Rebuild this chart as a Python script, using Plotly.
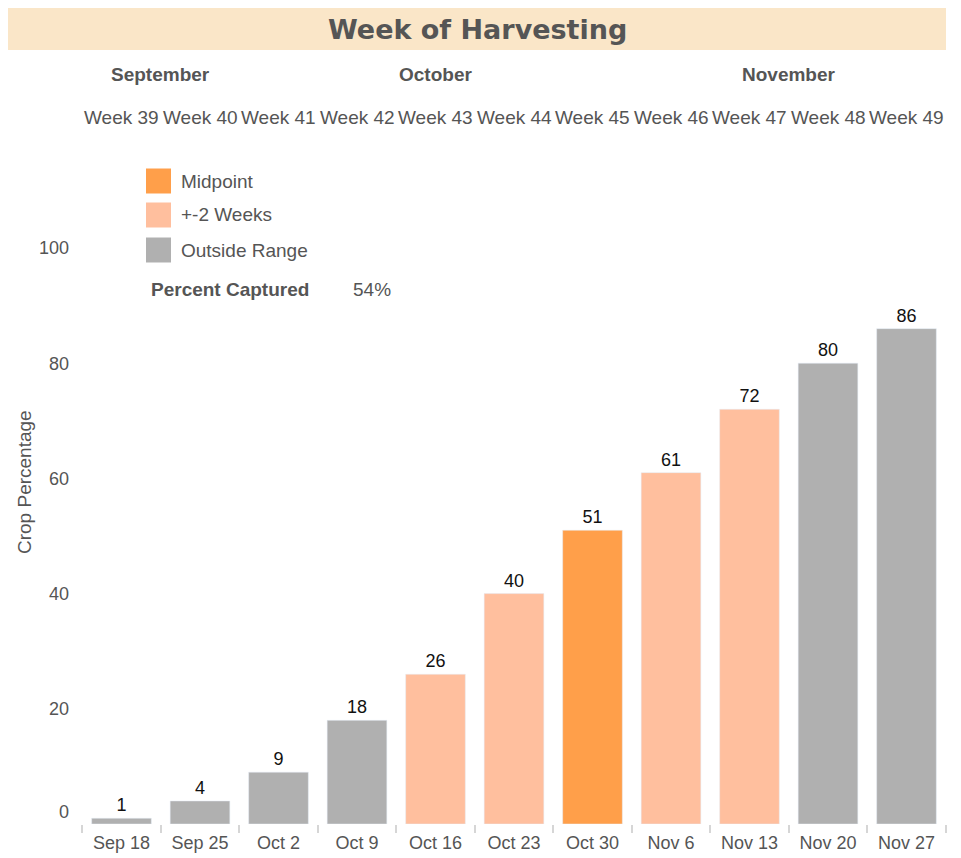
import plotly.graph_objects as go

categories = ["Sep 18", "Sep 25", "Oct 2", "Oct 9", "Oct 16", "Oct 23", "Oct 30", "Nov 6", "Nov 13", "Nov 20", "Nov 27"]
weeks = ["Week 39", "Week 40", "Week 41", "Week 42", "Week 43", "Week 44", "Week 45", "Week 46", "Week 47", "Week 48", "Week 49"]
values = [1, 4, 9, 18, 26, 40, 51, 61, 72, 80, 86]
groups = ["Outside Range", "Outside Range", "Outside Range", "Outside Range", "+-2 Weeks", "+-2 Weeks",
          "Midpoint", "+-2 Weeks", "+-2 Weeks", "Outside Range", "Outside Range"]
group_names = ["Midpoint", "+-2 Weeks", "Outside Range"]
group_colors = {"Midpoint": "#FF9F4A", "+-2 Weeks": "#FFBF9E", "Outside Range": "#B0B0B0"}
months = ["September", "October", "November"]
month_centers = [0.5, 4, 8.5]
percent_captured = "54%"
y_ticks = [20, 40, 60, 80, 100]

FONT = "Liberation Sans, Arial, sans-serif"
GRAY = "#555555"

# page offset of the figure (body margin)
OFF = 8
W, H = 961, 858
# plot area in figure pixels
L = 82 - OFF
T = 248 - OFF
R = W - (946 - OFF)
B = H - (824 - OFF)
PW, PH = W - L - R, H - T - B


def px(x):
    return (x - OFF - L) / PW


def py(y):
    return (H - B - (y - OFF)) / PH


fig = go.Figure()
for g in group_names:
    xs = [c for c, gg in zip(categories, groups) if gg == g]
    ys = [v for v, gg in zip(values, groups) if gg == g]
    fig.add_trace(go.Bar(
        x=xs, y=ys, name=g, marker_color=group_colors[g],
        text=[str(v) for v in ys], textposition="outside",
        textfont=dict(family=FONT, size=18, color="#111111"),
        cliponaxis=False, showlegend=False,
    ))

shapes = []
annotations = []

# title band
shapes.append(dict(type="rect", xref="paper", yref="paper", x0=px(8), x1=px(946), y0=py(50), y1=py(8),
                   fillcolor="#FAE6C8", line=dict(width=0), layer="below"))
annotations.append(dict(text="<b>Week of Harvesting</b>", xref="paper", yref="paper", x=px(477), y=py(29),
                        showarrow=False, font=dict(family="DejaVu Sans, sans-serif", size=27, color=GRAY),
                        xanchor="center", yanchor="middle"))

# months
for m, c in zip(months, month_centers):
    annotations.append(dict(text="<b>" + m + "</b>", xref="x", yref="paper", x=c, y=py(75), showarrow=False,
                            font=dict(family=FONT, size=19, color=GRAY), xanchor="center", yanchor="middle"))
# weeks
for i, wk in enumerate(weeks):
    annotations.append(dict(text=wk, xref="x", yref="paper", x=i, y=py(117), showarrow=False,
                            font=dict(family=FONT, size=19, color=GRAY), xanchor="center", yanchor="middle"))

# legend (manual)
leg_y = [181, 215, 250]
for g, yy in zip(group_names, leg_y):
    shapes.append(dict(type="rect", xref="paper", yref="paper", x0=px(146), x1=px(171), y0=py(yy + 12.5),
                       y1=py(yy - 12.5), fillcolor=group_colors[g], line=dict(width=0)))
    annotations.append(dict(text=g, xref="paper", yref="paper", x=px(179), y=py(yy), showarrow=False,
                            font=dict(family=FONT, size=19, color=GRAY), xanchor="left", yanchor="middle"))

annotations.append(dict(text="<b>Percent Captured</b>", xref="paper", yref="paper", x=px(149), y=py(289),
                        showarrow=False, font=dict(family=FONT, size=19, color=GRAY), xanchor="left",
                        yanchor="middle"))
annotations.append(dict(text=percent_captured, xref="paper", yref="paper", x=px(351), y=py(289),
                        showarrow=False, font=dict(family=FONT, size=19, color=GRAY), xanchor="left",
                        yanchor="middle"))

# zero label shifted up
annotations.append(dict(text="0", xref="paper", yref="y", x=px(71), y=0, yshift=12, showarrow=False,
                        font=dict(family=FONT, size=18, color=GRAY), xanchor="right", yanchor="middle"))

# y axis title
annotations.append(dict(text="Crop Percentage", xref="paper", yref="paper", x=px(24), y=py(482),
                        textangle=-90, showarrow=False, font=dict(family=FONT, size=19, color=GRAY),
                        xanchor="center", yanchor="middle"))

fig.update_layout(
    width=W, height=H,
    margin=dict(l=L, r=R, t=T, b=B, autoexpand=False),
    paper_bgcolor="white", plot_bgcolor="white",
    barmode="overlay", bargap=0.24,
    shapes=shapes, annotations=annotations,
    font=dict(family=FONT, size=18, color=GRAY),
)
fig.update_xaxes(
    type="category", categoryorder="array", categoryarray=categories,
    tickson="boundaries", ticks="outside", ticklen=8, tickcolor="#D6D6D6", tickwidth=2,
    ticklabelstandoff=6,
    showgrid=False, showline=False, zeroline=False, automargin=False,
    tickfont=dict(family=FONT, size=18, color=GRAY),
)
fig.update_yaxes(
    range=[0, 100], tickvals=y_ticks, showgrid=False, zeroline=False, showline=False,
    ticks="", ticklabelstandoff=12, automargin=False,
    tickfont=dict(family=FONT, size=18, color=GRAY),
)

fig.write_html("out.html")
